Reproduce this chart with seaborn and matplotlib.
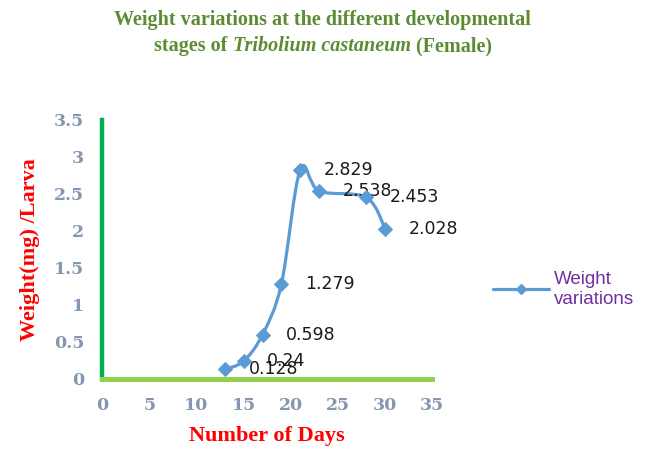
#!/usr/bin/env python3

import matplotlib

matplotlib.use("Agg")
import matplotlib.pyplot as plt
import numpy as np
import pandas
import seaborn as sns
from matplotlib.path import Path
from matplotlib.patches import PathPatch

days = [13, 15, 17, 19, 21, 23, 28, 30]
weights = [0.128, 0.24, 0.598, 1.279, 2.829, 2.538, 2.453, 2.028]
labels = ["0.128", "0.24", "0.598", "1.279", "2.829", "2.538", "2.453", "2.028"]
series_name = "Weight variations"

blue = "#5B9BD5"
tick_color = "#8497B0"
title_color = "#5B8C32"


def smooth_path(xs, ys):
    # Catmull-Rom style bezier, like the spreadsheet "smoothed line"
    pts = np.column_stack([xs, ys]).astype(float)
    verts = [pts[0]]
    codes = [Path.MOVETO]
    n = len(pts)
    for i in range(n - 1):
        p0 = pts[i - 1] if i > 0 else pts[i]
        p1 = pts[i]
        p2 = pts[i + 1]
        p3 = pts[i + 2] if i + 2 < n else pts[i + 1]
        c1 = p1 + (p2 - p0) / 6.0
        c2 = p2 - (p3 - p1) / 6.0
        verts += [c1, c2, p2]
        codes += [Path.CURVE4] * 3
    return Path(verts, codes)


def main():
    sns.set_style("white")
    plt.rcParams["font.family"] = ["DejaVu Sans"]

    df = pandas.DataFrame({"days": days, "weight": weights})

    fig = plt.figure(figsize=(6.59, 4.51), dpi=100)
    ax = fig.add_axes([0.155, 0.160, 0.501, 0.574])

    # smoothed connecting line
    ax.add_patch(
        PathPatch(smooth_path(days, weights), facecolor="none", edgecolor=blue,
                  lw=2.3, zorder=3, capstyle="round", joinstyle="round")
    )
    sns.lineplot(
        data=df, x="days", y="weight", ax=ax, marker="D", markersize=7,
        color=blue, linestyle="none", markeredgecolor=blue, zorder=4,
        label=series_name,
    )

    for x, y, t in zip(days, weights, labels):
        ax.annotate(t, (x, y), xytext=(17, 0), textcoords="offset points",
                    ha="left", va="center", fontsize=12.5, color="#1a1a1a")

    ax.set_xlim(0, 35)
    ax.set_ylim(0, 3.5)
    ax.set_xticks(range(0, 36, 5))
    ax.set_yticks([0, 0.5, 1, 1.5, 2, 2.5, 3, 3.5])
    ax.set_yticklabels(["0", "0.5", "1", "1.5", "2", "2.5", "3", "3.5"])
    ax.tick_params(axis="both", length=0, labelsize=12.5, colors=tick_color)
    ax.tick_params(axis="x", pad=13)
    ax.tick_params(axis="y", pad=13)
    for lab in ax.get_xticklabels() + ax.get_yticklabels():
        lab.set_fontfamily("DejaVu Serif")
        lab.set_fontweight("bold")

    for side in ["top", "right"]:
        ax.spines[side].set_visible(False)
    ax.spines["left"].set_color("#00B050")
    ax.spines["left"].set_linewidth(3.2)
    ax.spines["bottom"].set_color("#92D050")
    ax.spines["bottom"].set_linewidth(3.6)

    ax.set_xlabel("Number of Days", fontsize=16, color="#FF0000",
                  fontweight="bold", family="Liberation Serif", labelpad=9)
    ax.set_ylabel("Weight(mg) /Larva", fontsize=16, color="#FF0000",
                  fontweight="bold", family="Liberation Serif", labelpad=10)

    # title, two lines, second one mixes bold and italic
    fs = 14.5
    fig.text(0.49, 0.955, "Weight variations at the different developmental",
             ha="center", va="center", fontsize=fs, fontweight="bold",
             color=title_color, family="Liberation Serif")
    parts = [("stages of ", "normal"), ("Tribolium castaneum", "italic"),
             (" (Female)", "normal")]
    texts = [fig.text(0, 0.897, s, ha="left", va="center", fontsize=fs,
                      fontweight="bold", style=st, color=title_color,
                      family="Liberation Serif") for s, st in parts]
    renderer = fig.canvas.get_renderer()
    widths = [t.get_window_extent(renderer).width for t in texts]
    x0 = 0.49 * fig.bbox.width - sum(widths) / 2
    for t, w in zip(texts, widths):
        t.set_x(x0 / fig.bbox.width)
        x0 += w

    ax.get_legend().remove()
    handle = plt.Line2D([], [], color=blue, lw=2.3, marker="D", markersize=5)
    leg = fig.legend([handle], ["Weight\nvariations"], loc="center left",
                     bbox_to_anchor=(0.722, 0.358), frameon=False, fontsize=13.5,
                     handlelength=3.0, handletextpad=0.25, labelspacing=0)
    for t in leg.get_texts():
        t.set_color("#7030A0")
        t.set_family("Liberation Sans")

    fig.savefig("out.png", dpi=100)


if __name__ == "__main__":
    main()
